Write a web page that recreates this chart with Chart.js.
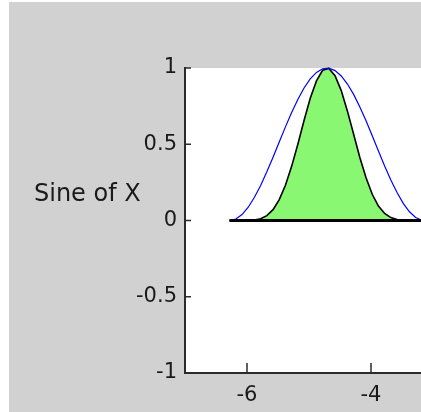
<!DOCTYPE html>
<html>
<head>
<meta charset="utf-8">
<script src="https://cdn.jsdelivr.net/npm/chart.js@4.4.3/dist/chart.umd.min.js"></script>
<style>
  html, body { margin:0; padding:0; background:#fff; overflow:hidden; }
  #frame { position:absolute; left:9px; top:2px; width:700px; height:410px; background:#d1d1d1; }
  canvas { display:block; }
</style>
</head>
<body>
<div id="frame"><canvas id="c" width="700" height="410"></canvas></div>
<script>
// 데이터: 그림에서 읽은 값
const xValues = [-6.28,-6.18,-6.08,-5.98,-5.88,-5.78,-5.68,-5.58,-5.48,-5.38,-5.28,
  -5.18,-5.08,-4.98,-4.88,-4.78,-4.68,-4.58,-4.48,-4.38,-4.28,-4.18,-4.08,-3.98,
  -3.88,-3.78,-3.68,-3.58,-3.48,-3.38,-3.28,-3.18,-3.08];
const blueValues = [0,0.010,0.039,0.087,0.152,0.230,0.319,0.415,0.515,0.614,0.708,
  0.794,0.869,0.929,0.971,0.995,0.999,0.983,0.948,0.895,0.827,0.745,0.654,0.556,
  0.456,0.358,0.266,0.183,0.112,0.057,0.020,0.002,0.003];
const greenValues = [0,0,0.0001,0.0007,0.0035,0.012,0.032,0.071,0.137,0.231,0.355,
  0.500,0.656,0.802,0.915,0.985,0.997,0.950,0.852,0.717,0.566,0.413,0.280,0.172,
  0.095,0.046,0.019,0.006,0.0014,0.0002,0,0,0];
const baseX = [-6.283, 0];
const baseY = [0, 0];
const xTicks = [-6, -4, -2, 0];
const yTicks = [-1, -0.5, 0, 0.5, 1];
const yTitle = 'Sine of X';

const AXIS = '#2b2b2b';
const TEXT = '#1a1a1a';
const FONT = {family:'"DejaVu Sans", sans-serif', size:21};

const pts = (xs, ys) => xs.map((x,i)=>({x, y:ys[i]}));

// 흰 플롯 영역
const plotBg = {
  id:'plotBg',
  beforeDraw(chart){
    const {ctx, chartArea:a} = chart;
    ctx.save();
    ctx.fillStyle = '#fff';
    ctx.fillRect(a.left, a.top, a.right-a.left, a.bottom-a.top);
    ctx.restore();
  }
};

// 안쪽 눈금 + y축 제목
const innerTicks = {
  id:'innerTicks',
  afterDraw(chart){
    const {ctx, chartArea:a, scales:{x, y}} = chart;
    ctx.save();
    ctx.strokeStyle = AXIS;
    ctx.lineWidth = 1.5;
    ctx.beginPath();
    y.ticks.forEach(t=>{
      const py = y.getPixelForValue(t.value);
      ctx.moveTo(a.left, py); ctx.lineTo(a.left+6, py);
    });
    x.ticks.forEach(t=>{
      const px = x.getPixelForValue(t.value);
      ctx.moveTo(px, a.bottom); ctx.lineTo(px, a.bottom-10);
    });
    ctx.stroke();
    ctx.fillStyle = TEXT;
    ctx.font = '24px "DejaVu Sans", sans-serif';
    ctx.textBaseline = 'alphabetic';
    ctx.textAlign = 'left';
    ctx.fillText(yTitle, 25, 198.5);
    ctx.restore();
  }
};

new Chart(document.getElementById('c'), {
  type:'line',
  data:{
    datasets:[
      { data: pts(baseX, baseY), borderColor:'#000', borderWidth:3, pointRadius:0, order:0, clip:4 },
      { data: pts(xValues, blueValues), borderColor:'#0000ff', borderWidth:1.2, pointRadius:0, order:1, clip:4 },
      { data: pts(xValues, greenValues), borderColor:'#000', borderWidth:1.6, pointRadius:0, order:2, clip:4,
        fill:'origin', backgroundColor:'rgb(138,247,115)' }
    ]
  },
  options:{
    responsive:false,
    devicePixelRatio:1,
    animation:false,
    layout:{ padding:{ top:66, right:90, left:0, bottom:0 } },
    plugins:{ legend:{display:false}, tooltip:{enabled:false} },
    elements:{ line:{ tension:0 } },
    scales:{
      x:{
        type:'linear', min:-7, max:0,
        grid:{ display:false, drawTicks:false },
        border:{ display:true, color:AXIS, width:2 },
        ticks:{ color:TEXT, font:FONT, padding:10, maxRotation:0, callback:v=>String(v) },
        afterBuildTicks(s){ s.ticks = xTicks.map(v=>({value:v})); },
        afterFit(s){ s.height = 39; }
      },
      y:{
        type:'linear', min:-1, max:1,
        grid:{ display:false, drawTicks:false },
        border:{ display:true, color:AXIS, width:2 },
        ticks:{ color:TEXT, font:FONT, padding:8, callback:v=>String(v) },
        afterBuildTicks(s){ s.ticks = yTicks.map(v=>({value:v})); },
        afterFit(s){ s.width = 176; }
      }
    }
  },
  plugins:[plotBg, innerTicks]
});
</script>
</body>
</html>
